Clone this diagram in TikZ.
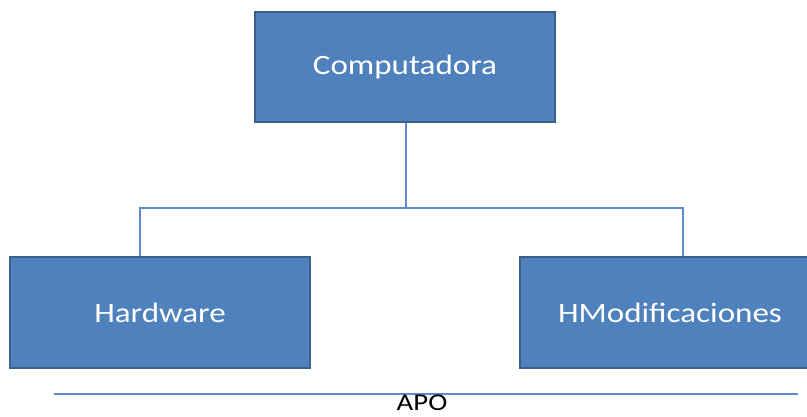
\documentclass[tikz,border=0pt]{standalone}
\usepackage{fontspec}
\setmainfont{Carlito}
\usetikzlibrary{positioning}
\definecolor{boxfill}{HTML}{4F81BD}
\definecolor{boxline}{HTML}{3A5F8B}
\definecolor{conn}{HTML}{5B8BC9}
\newcommand{\boxtxt}[1]{\scalebox{1.18}[1]{\fontsize{28}{32}\selectfont #1}}
\tikzset{
  orgbox/.style={draw=boxline, fill=boxfill, line width=2pt, minimum width=300pt, inner sep=0pt, text=white},
  connline/.style={draw=conn, line width=2pt}
}
\begin{document}
\begin{tikzpicture}[x=1pt,y=-1pt]
\useasboundingbox (0,0) rectangle (807,416);
\node[orgbox, minimum height=110pt] (top) at (405,67) {\boxtxt{Computadora}};
\node[orgbox, minimum height=111pt] (left) at (160,312.5) {\boxtxt{Hardware}};
\node[orgbox, minimum height=111pt] (right) at (670,312.5) {\boxtxt{HModificaciones}};
\coordinate (j) at (406,208);
\draw[connline] (top.south -| j) -- (j);
\draw[connline] ([xshift=-20pt]left.north) |- (j) -| ([xshift=13pt]right.north);
\coordinate (l1) at (54,394);
\coordinate (l2) at (798,394);
\draw[connline, line width=2.2pt] (l1) -- (l2);
\node[anchor=base, inner sep=0pt, text=black] (apo) at (422,410.5) {\scalebox{1.2}[1]{\fontsize{24}{28}\selectfont APO}};
\end{tikzpicture}
\end{document}
